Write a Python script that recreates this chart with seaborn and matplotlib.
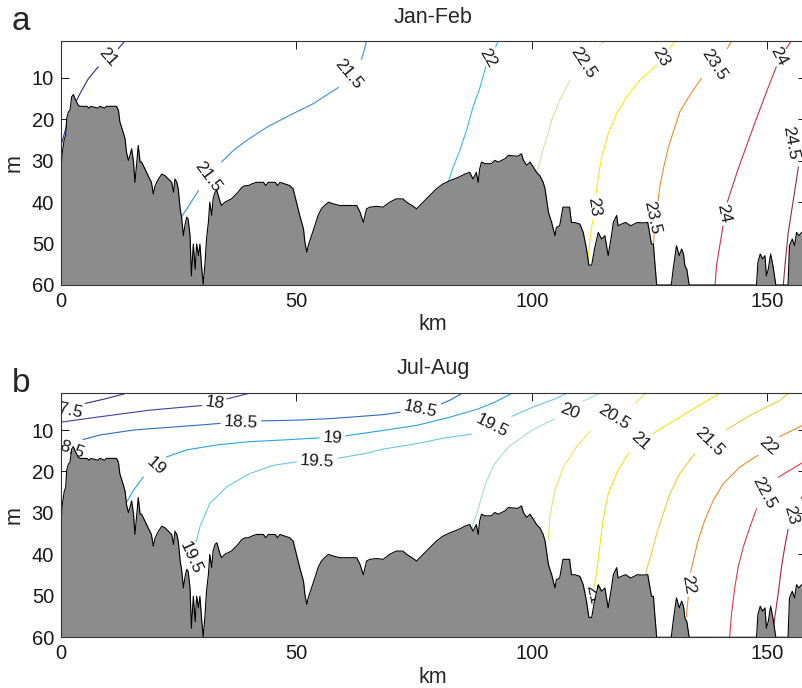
import matplotlib
matplotlib.use("Agg")
import matplotlib.pyplot as plt
import seaborn as sns

# ---------------- data ----------------
# seafloor profile (km, depth m)
bathy_km = [0.0, 0.28, 0.71, 0.99, 1.2, 1.56, 1.91, 2.26, 2.62, 2.97, 3.33, 3.68, 4.03, 5.5, 6.0, 6.3, 7.9, 8.2,
            9.3, 9.6, 11.8, 12.2, 12.5, 13.2, 13.6, 13.9, 14.3, 14.65, 15.0, 15.4, 15.7, 16.1, 16.4, 16.8, 17.1,
            17.8, 18.5, 19.2, 19.6, 20.0, 20.7, 21.4, 22.1, 22.8, 23.5, 23.9, 24.2, 24.6, 24.9, 25.3, 25.6, 26.0,
            26.3, 26.7, 27.0, 27.4, 27.7, 28.1, 28.5, 28.8, 29.2, 29.5, 29.9, 30.2, 30.6, 30.9, 31.3, 31.6, 32.0,
            32.3, 32.7, 33.1, 33.4, 33.8, 34.1, 34.8, 35.5, 36.2, 36.9, 37.6, 38.4, 39.1, 39.8, 40.5, 41.5, 43.0,
            43.5, 44.0, 45.5, 46.0, 46.5, 48.6, 49.3, 50.0, 50.7, 51.5, 51.8, 52.2, 52.5, 53.2, 53.9, 54.6, 55.3,
            56.0, 56.8, 57.8, 59.2, 61.3, 62.8, 63.5, 64.2, 64.9, 65.6, 67.0, 68.4, 69.8, 71.2, 72.6, 73.4, 74.8,
            75.5, 76.2, 76.9, 78.3, 79.7, 81.1, 82.6, 84.4, 85.8, 86.8, 87.5, 88.2, 88.6, 88.9, 89.3, 90.0, 91.4,
            92.1, 92.9, 94.3, 95.0, 97.0, 97.8, 98.2, 98.9, 99.6, 100.3, 101.0, 101.7, 102.4, 102.8, 103.1, 103.5,
            104.2, 104.9, 105.2, 105.9, 106.6, 108.0, 108.4, 109.1, 110.2, 110.9, 111.6, 112.1, 112.7, 113.3,
            114.1, 114.8, 115.5, 116.2, 116.9, 117.3, 118.0, 118.3, 119.0, 119.9, 121.0, 122.4, 123.6, 124.6,
            125.4, 125.8, 126.1, 126.5, 129.6, 130.0, 130.7, 131.3, 131.8, 132.2, 132.5, 132.9, 133.4, 147.7,
            148.0, 148.5, 149.0, 149.5, 149.8, 150.2, 150.7, 151.2, 151.8, 154.4, 154.7, 155.3, 155.8, 156.2,
            156.7, 157.3, 158.0]
bathy_depth = [31.9, 27.9, 24.7, 23.9, 19.8, 18.2, 17.8, 14.6, 14.0, 15.0, 15.8, 16.6, 16.85, 16.85, 17.3, 16.85,
               17.3, 16.85, 17.3, 16.85, 16.85, 17.8, 20.6, 23.1, 24.7, 27.9, 29.9, 28.7, 27.1, 30.3, 35.2, 30.3,
               26.3, 30.3, 30.3, 31.9, 33.6, 35.2, 38.0, 36.0, 34.4, 33.2, 33.6, 34.4, 35.2, 37.6, 34.4, 35.2, 36.8,
               41.6, 43.6, 48.1, 45.7, 43.6, 44.1, 48.1, 57.8, 50.1, 56.2, 50.1, 52.9, 50.1, 56.2, 59.8, 54.5, 48.9,
               44.9, 40.0, 43.2, 39.2, 37.6, 37.2, 38.4, 40.0, 40.8, 40.0, 39.6, 39.2, 38.4, 37.6, 36.4, 36.0, 36.0,
               35.6, 35.2, 35.2, 36.0, 35.2, 35.2, 36.0, 35.2, 36.0, 36.8, 40.0, 43.2, 46.5, 49.7, 52.1, 50.5, 48.1,
               45.7, 43.2, 41.6, 40.8, 40.0, 40.4, 40.8, 40.8, 40.8, 42.4, 44.9, 41.6, 41.2, 41.0, 41.2, 40.0, 39.2,
               39.2, 40.0, 41.0, 41.6, 40.8, 40.0, 38.4, 36.8, 35.6, 34.8, 34.0, 33.2, 32.8, 34.4, 32.8, 35.2, 32.0,
               30.3, 30.7, 30.7, 29.9, 30.3, 29.5, 28.7, 28.9, 28.3, 29.9, 31.1, 30.3, 31.5, 32.8, 33.6, 35.2, 36.8,
               39.2, 42.4, 44.9, 48.1, 46.1, 45.7, 41.2, 41.2, 44.9, 44.9, 45.3, 47.3, 51.3, 55.2, 55.2, 51.3, 47.3,
               48.9, 48.1, 52.9, 48.1, 44.9, 43.2, 45.7, 45.3, 44.9, 45.7, 44.9, 45.0, 44.9, 50.1, 50.1, 54.5, 60.0,
               60.0, 56.2, 50.5, 52.9, 51.3, 52.5, 55.4, 56.2, 60.0, 60.0, 54.5, 52.5, 53.7, 52.9, 57.8, 56.2, 52.5,
               55.4, 60.0, 60.0, 50.5, 48.9, 50.5, 47.3, 48.1, 47.3, 47.5]

# Jan-Feb isotherms: list of visible segments, each a list of (km, depth)
jan_t21 = [[(13.6, 1.0), (12.2, 2.9)],
           [(7.9, 7.3), (5.8, 10.2), (4.4, 13.0), (3.3, 15.4), (2.0, 18.5), (1.2, 21.5), (0.0, 26.3)]]
jan_t21_5 = [[(64.9, 1.0), (64.4, 3.3), (63.8, 5.5)],
             [(58.9, 12.3), (53.6, 16.2), (48.6, 19.0), (43.7, 21.9), (39.4, 25.1), (36.6, 27.5), (34.1, 30.3)],
             [(29.2, 37.2), (27.4, 40.4), (25.8, 43.2), (24.9, 45.3)]]
jan_t22 = [[(92.9, 1.0), (92.3, 2.5)],
           [(90.2, 7.3), (89.0, 12.2), (87.5, 17.0), (86.1, 22.7), (84.7, 27.5), (83.3, 31.5), (82.2, 35.2),
            (81.9, 36.4)]]
jan_t22_5 = [[(115.5, 1.0), (114.4, 2.1)],
             [(108.1, 10.6), (105.9, 15.4), (104.2, 20.2), (103.2, 24.3), (102.1, 28.3), (101.2, 32.3),
              (100.8, 34.0)]]
jan_t23 = [[(130.4, 1.0), (129.3, 2.9)],
           [(126.5, 6.9), (122.9, 10.6), (120.1, 14.6), (118.0, 18.6), (116.2, 23.5), (114.8, 29.1), (114.1, 34.0),
            (113.6, 38.0)],
           [(112.9, 44.5), (112.3, 49.3), (111.9, 54.9)]]
jan_t23_5 = [[(142.4, 1.0), (141.5, 2.9)],
             [(136.0, 10.1), (133.5, 14.2), (131.4, 18.2), (130.0, 23.1), (128.9, 27.1), (127.9, 32.0),
              (127.2, 36.0), (126.8, 39.6)],
             [(125.95, 47.8), (125.85, 50.1)]]
jan_t24 = [[(155.1, 1.0), (154.0, 2.9)],
           [(151.9, 7.3), (149.8, 13.4), (147.7, 19.8), (145.6, 26.3), (143.8, 32.0), (142.4, 36.8), (141.5, 40.0)],
           [(140.6, 45.7), (139.9, 50.5), (139.2, 55.4), (138.9, 60.0)]]
jan_t24_5 = [[(156.6, 31.5), (155.5, 39.6), (154.4, 47.7), (153.7, 55.8), (153.4, 60.0)]]

jan_levels = [21, 21.5, 22, 22.5, 23, 23.5, 24, 24.5]
jan_lines = [jan_t21, jan_t21_5, jan_t22, jan_t22_5, jan_t23, jan_t23_5, jan_t24, jan_t24_5]
jan_label_text = ["21", "21.5", "21.5", "22", "22.5", "23", "23", "23.5", "23.5", "24", "24", "24.5"]

# Jul-Aug isotherms
jul_t17_5 = [[(5.1, 3.6), (9.7, 2.4), (14.3, 1.0)]]
jul_t18 = [[(0.0, 8.1), (8.3, 6.8), (18.9, 5.2), (29.9, 4.1)],
           [(35.2, 2.5), (40.5, 1.0)]]
jul_t18_5 = [[(4.7, 12.3), (8.3, 11.2), (15.4, 10.0), (22.4, 9.4), (29.5, 8.8), (33.8, 8.4)],
             [(42.6, 7.8), (50.7, 7.6), (57.8, 7.2), (64.9, 6.6), (68.4, 6.3), (72.0, 5.7)],
             [(80.8, 3.7), (82.6, 2.8), (85.4, 1.0)]]
jul_t19 = [[(13.8, 27.7), (15.4, 24.5), (17.5, 21.3)],
           [(22.4, 16.5), (26.7, 14.8), (33.1, 13.6), (40.1, 12.8), (47.2, 12.4), (54.8, 11.9)],
           [(60.5, 11.4), (68.4, 10.1), (75.5, 8.9), (82.6, 6.9), (88.6, 4.9), (92.1, 3.3), (95.7, 1.2)]]
jul_t19_5 = [[(28.7, 37.0), (29.5, 33.3), (31.6, 27.7), (35.2, 23.7), (40.1, 20.5), (45.1, 18.5), (50.0, 17.7)],
             [(58.9, 16.8), (64.9, 15.6), (68.4, 14.6), (75.5, 13.3), (81.5, 11.9), (87.2, 11.0)],
             [(95.7, 6.7), (100.6, 4.3), (104.9, 2.5), (107.7, 1.0)]]
jul_t20 = [[(114.7, 1.0), (110.9, 3.0)],
           [(104.9, 7.3), (99.9, 10.1), (95.0, 14.1), (92.1, 18.1), (90.4, 22.2), (89.3, 26.2), (88.3, 30.2),
            (87.5, 32.6), (87.3, 34.0)]]
jul_t20_5 = [[(124.3, 1.0), (121.9, 3.6)],
             [(112.5, 10.2), (109.5, 14.0), (106.7, 18.9), (104.9, 24.5), (103.8, 30.9), (103.5, 36.5)]]
jul_t21 = [[(140.2, 1.0), (139.2, 1.6), (132.1, 6.4), (125.8, 10.8)],
           [(120.6, 15.5), (118.3, 19.7), (116.2, 25.4), (115.1, 31.9), (114.4, 38.2), (113.7, 44.7),
            (113.2, 47.9)]]
jul_t21_5 = [[(154.6, 1.0), (152.6, 2.9), (146.3, 6.5), (141.2, 10.0)],
             [(134.6, 15.7), (131.4, 20.5), (129.3, 25.4), (127.9, 30.2), (126.5, 35.0), (125.4, 39.8),
              (124.4, 43.5), (124.2, 45.0)]]
jul_t22 = [[(158.0, 8.6), (156.9, 9.2), (152.6, 11.6)],
           [(148.0, 16.1), (144.2, 18.9), (140.6, 23.0), (138.5, 27.0), (136.7, 31.8), (135.3, 36.6), (134.3, 41.4),
            (133.7, 44.3)],
           [(133.2, 50.3), (132.8, 55.1)]]
jul_t22_5 = [[(158.0, 17.6), (157.3, 18.0), (152.3, 21.4)],
             [(147.7, 29.0), (146.3, 33.4), (144.9, 38.2), (143.8, 43.1), (143.1, 47.9), (142.4, 54.3),
              (142.0, 60.0)]]
jul_t23 = [[(158.0, 25.0), (157.2, 26.5)],
           [(154.4, 34.0), (153.7, 38.2), (153.0, 43.1), (152.3, 49.5), (151.6, 55.1), (151.1, 60.0)]]

jul_levels = [17.5, 18, 18.5, 19, 19.5, 20, 20.5, 21, 21.5, 22, 22.5, 23]
jul_lines = [jul_t17_5, jul_t18, jul_t18_5, jul_t19, jul_t19_5, jul_t20, jul_t20_5, jul_t21, jul_t21_5, jul_t22,
             jul_t22_5, jul_t23]
jul_label_text = ["17.5", "18", "18.5", "18.5", "18.5", "19", "19", "19.5", "19.5", "19.5", "20", "20.5", "21",
                  "21", "21.5", "22", "22", "22.5", "23"]

# ---------------- styling / layout ----------------
jan_colors = ["#2b2b8f", "#3c8fd9", "#38c0d8", "#cfe4a8", "#f7e81f", "#ee8e2c", "#d0304c", "#8a2f45"]
jul_colors = ["#3d2a88", "#40409f", "#2d6cc8", "#28a4e0", "#6cc8dc", "#a8dcd4", "#f0e060", "#f5e410",
              "#e6d040", "#f08a30", "#e53848", "#b0203c"]
# label anchor (km, depth, rotation)
jan_label_pos = [(10.0, 4.9, -48), (61.1, 9.0, -50), (31.2, 33.8, -53), (90.7, 5.1, -60), (110.8, 6.4, -57),
                 (127.4, 5.0, -60), (113.2, 41.2, -82), (138.6, 6.7, -57), (125.5, 43.8, -78),
                 (152.5, 4.9, -62), (140.8, 42.8, -78), (155.0, 25.8, -80)]
jul_label_pos = [(1.2, 5.1, -12), (32.6, 3.4, -8), (1.6, 14.6, -20), (38.2, 8.2, -3), (76.3, 5.0, -12),
                 (20.1, 18.7, -42), (57.7, 12.0, -3), (27.5, 40.8, -66), (54.4, 17.5, -3), (91.4, 9.0, -27),
                 (108.0, 5.6, -22), (117.4, 6.8, -32), (123.0, 12.8, -42), (112.9, 49.8, -78),
                 (137.7, 12.9, -45), (150.3, 13.9, -42), (133.1, 47.3, -80), (149.4, 25.2, -62),
                 (155.1, 30.6, -75)]

sns.set_theme(style="ticks")
plt.rcParams["font.family"] = ["Liberation Sans", "DejaVu Sans"]

fig = plt.figure(figsize=(8.02, 6.88), dpi=100)
W, H = 802.0, 688.0
ax_a = fig.add_axes([61 / W, 1 - 285 / H, 744 / W, (285 - 40.7) / H])
ax_b = fig.add_axes([61 / W, 1 - 637.3 / H, 744 / W, (637.3 - 392.7) / H])


def draw(ax, lines, colors, texts, positions):
    for segs, col in zip(lines, colors):
        for seg in segs:
            xs = [p[0] for p in seg]
            ys = [p[1] for p in seg]
            sns.lineplot(x=xs, y=ys, sort=False, estimator=None, color=col, lw=0.8, ax=ax, zorder=2)
    for txt, (x, y, r) in zip(texts, positions):
        ax.text(x, y, txt, rotation=r, rotation_mode="anchor", ha="center", va="center", fontsize=12.5,
                color="#1a1a1a", zorder=2.5, clip_on=True)
    ax.fill_between(bathy_km, bathy_depth, 60, color="#8c8c8c", lw=0, zorder=3)
    sns.lineplot(x=bathy_km, y=bathy_depth, sort=False, estimator=None, color="black", lw=0.8, ax=ax, zorder=4)
    ax.set_xlim(0, 158)
    ax.set_ylim(60, 1)
    ax.set_xticks([0, 50, 100, 150])
    ax.set_yticks([10, 20, 30, 40, 50, 60])
    ax.tick_params(direction="in", length=5.4, width=0.7, top=True, right=True, labelsize=14.5, pad=5,
                   colors="#1a1a1a")
    for sp in ax.spines.values():
        sp.set_linewidth(0.8)
        sp.set_color("#333333")
        sp.set_zorder(5)
    ax.set_xlabel("km", fontsize=15.5)
    ax.set_ylabel("m", fontsize=15.5)
    ax.xaxis.set_label_coords(0.5, -0.12)
    ax.yaxis.set_label_coords(-0.049, 0.5)


draw(ax_a, jan_lines, jan_colors, jan_label_text, jan_label_pos)
draw(ax_b, jul_lines, jul_colors, jul_label_text, jul_label_pos)

fig.text(433 / W, 1 - 23 / H, "Jan-Feb", ha="center", va="baseline", fontsize=15.5)
fig.text(433 / W, 1 - 374 / H, "Jul-Aug", ha="center", va="baseline", fontsize=15.5)
fig.text(12 / W, 1 - 30 / H, "a", ha="left", va="baseline", fontsize=24)
fig.text(12 / W, 1 - 392 / H, "b", ha="left", va="baseline", fontsize=24)

fig.savefig("out.png", dpi=100)
